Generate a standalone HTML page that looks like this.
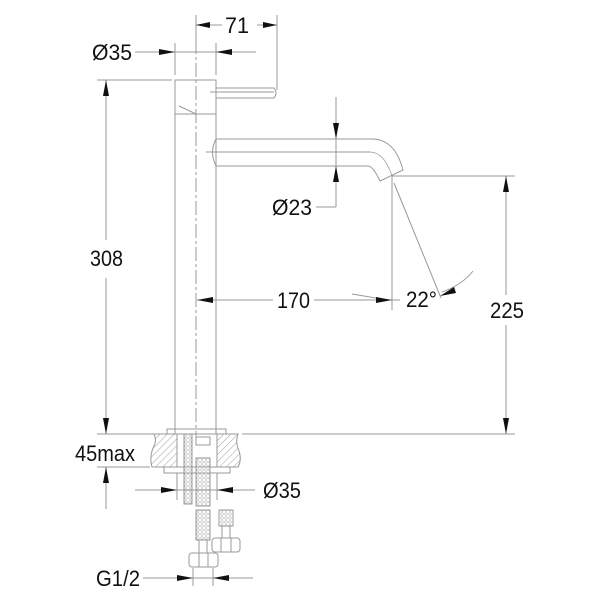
<!DOCTYPE html>
<html><head><style>body{margin:0;background:#fff}svg{display:block}</style></head><body>
<svg width="600" height="600" viewBox="0 0 600 600" xmlns="http://www.w3.org/2000/svg">
<defs>
<pattern id="h" width="5" height="5" patternUnits="userSpaceOnUse" patternTransform="rotate(45)"><line x1="0" y1="0" x2="0" y2="5" stroke="#888" stroke-width="0.8"/></pattern>
<pattern id="m" width="4" height="4" patternUnits="userSpaceOnUse"><circle cx="2" cy="2" r="1.3" fill="none" stroke="#999" stroke-width="0.5"/></pattern>
</defs>
<g fill="none" stroke="#999" stroke-width="1">
<rect x="175" y="80" width="41" height="34"/>
<line x1="175" y1="114" x2="175" y2="434"/><line x1="216" y1="114" x2="216" y2="434"/>
<path d="M179 106 L196 114 L216 114"/>
<line x1="196" y1="40" x2="196" y2="440" stroke-dasharray="14 3 3 3"/>
<path d="M216 88 L274 88 Q278 93 274 98 L216 98" fill="none"/>
<line x1="210" y1="92" x2="274" y2="92"/>
<path d="M216 139 L372 139 Q395 139 403 170 L380 181 Q373 166 368 166 L216 166"/>
<path d="M216 139 Q209 152 216 166"/>
<line x1="206" y1="152" x2="370" y2="152"/>
<path d="M370 152 Q384 152 392 176" stroke-width="0.8"/>
<line x1="196" y1="15" x2="196" y2="40"/><line x1="277" y1="15" x2="277" y2="90"/>
<line x1="196" y1="25" x2="222" y2="25"/><line x1="257" y1="25" x2="277" y2="25"/>
<line x1="175" y1="43" x2="175" y2="75"/><line x1="216" y1="43" x2="216" y2="75"/>
<line x1="135" y1="52" x2="256" y2="52"/>
<line x1="97" y1="80" x2="172" y2="80"/>
<line x1="106" y1="80" x2="106" y2="240"/><line x1="106" y1="278" x2="106" y2="434"/>
<line x1="336" y1="97" x2="336" y2="207"/><line x1="316" y1="207" x2="336" y2="207"/>
<line x1="392" y1="176" x2="392" y2="310"/>
<line x1="392" y1="176" x2="515" y2="176"/>
<line x1="506" y1="176" x2="506" y2="295"/><line x1="506" y1="325" x2="506" y2="434"/>
<line x1="197" y1="300" x2="273" y2="300"/><line x1="314" y1="300" x2="400" y2="300"/>
<line x1="394" y1="183" x2="441" y2="298"/>
<path d="M352 294 Q370 297 388 300"/><path d="M442 292 Q462 285 473 271"/>
<line x1="97" y1="434" x2="155" y2="434"/><line x1="242" y1="434" x2="515" y2="434"/>
<line x1="97" y1="467" x2="150" y2="467"/>
<rect x="167" y="429" width="59" height="5"/>
<path d="M154 434 L177 434 L177 467 L152 467 Q149 456 154 446 Q157 440 154 434Z" fill="url(#h)"/>
<path d="M217 434 L238 434 Q235 443 239 451 Q242 460 238 467 L217 467Z" fill="url(#h)"/>
<rect x="164" y="467" width="66" height="6"/>
<line x1="177" y1="473" x2="177" y2="500"/><line x1="217" y1="473" x2="217" y2="500"/>
<rect x="184" y="434" width="8" height="70" fill="url(#m)"/>
<rect x="196" y="437" width="14" height="8"/>
<rect x="196" y="458" width="14" height="48" fill="url(#m)"/>
<rect x="196" y="510" width="14" height="30" fill="url(#m)"/>
<line x1="199" y1="540" x2="199" y2="553"/><line x1="207" y1="540" x2="207" y2="553"/>
<rect x="189" y="553" width="29" height="14" rx="3"/>
<line x1="199" y1="553" x2="199" y2="567"/><line x1="208" y1="553" x2="208" y2="567"/>
<rect x="219" y="510" width="14" height="16" fill="url(#m)"/>
<line x1="222" y1="526" x2="222" y2="538"/><line x1="230" y1="526" x2="230" y2="538"/>
<rect x="212" y="538" width="28" height="14" rx="3"/>
<line x1="221" y1="538" x2="221" y2="552"/><line x1="231" y1="538" x2="231" y2="552"/>
<line x1="106" y1="467" x2="106" y2="509"/>
<line x1="135" y1="490" x2="255" y2="490"/>
<line x1="143" y1="578" x2="253" y2="578"/>
<line x1="193" y1="568" x2="193" y2="586"/><line x1="213" y1="568" x2="213" y2="586"/>
</g>
<g fill="#111">
<path d="M196 25 l14 -3 v6z"/><path d="M277 25 l-14 -3 v6z"/>
<path d="M175 52 l-16 -3 v6z"/><path d="M216 52 l16 -3 v6z"/>
<path d="M106 80 l-3 16 h6z"/><path d="M106 434 l-3 -16 h6z"/>
<path d="M336 139 l-3 -16 h6z"/><path d="M336 166 l-3 16 h6z"/>
<path d="M506 176 l-3 16 h6z"/><path d="M506 434 l-3 -16 h6z"/>
<path d="M197 300 l16 -3 v6z"/><path d="M392 300 l-16 -3 v6z"/>
<path d="M440 296 l14 -9 l2 6z"/>
<path d="M106 467 l-3 16 h6z"/>
<path d="M177 490 l-16 -3 v6z"/><path d="M217 490 l16 -3 v6z"/>
<path d="M193 578 l-16 -3 v6z"/><path d="M213 578 l16 -3 v6z"/>
</g>
<g font-family="Liberation Sans, sans-serif" font-size="22" fill="#111">
<text x="225" y="33" textLength="24" lengthAdjust="spacingAndGlyphs">71</text>
<text x="92" y="60" textLength="40" lengthAdjust="spacingAndGlyphs">Ø35</text>
<text x="90" y="266" textLength="33" lengthAdjust="spacingAndGlyphs">308</text>
<text x="272" y="215" textLength="40" lengthAdjust="spacingAndGlyphs">Ø23</text>
<text x="277" y="308" textLength="33" lengthAdjust="spacingAndGlyphs">170</text>
<text x="406" y="307" textLength="31" lengthAdjust="spacingAndGlyphs">22°</text>
<text x="490" y="318" textLength="34" lengthAdjust="spacingAndGlyphs">225</text>
<text x="75" y="461" textLength="60" lengthAdjust="spacingAndGlyphs">45max</text>
<text x="263" y="498" textLength="38" lengthAdjust="spacingAndGlyphs">Ø35</text>
<text x="96" y="586" textLength="44" lengthAdjust="spacingAndGlyphs">G1/2</text>
</g>
</svg>
</body></html>
